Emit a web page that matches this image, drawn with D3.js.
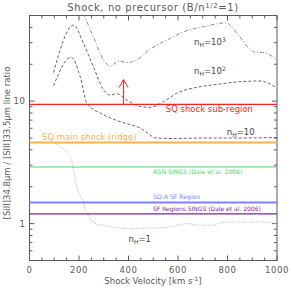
<!DOCTYPE html>
<html>
<head>
<meta charset="utf-8">
<script src="https://cdn.jsdelivr.net/npm/d3@7"></script>
<style>
body { margin: 0; background: #fff; }
svg text { font-family: "DejaVu Sans", sans-serif; }
</style>
</head>
<body>
<div id="chart"></div>
<script>
// model curves, shock velocity (km/s) vs line ratio
var vel1000 = [218, 258, 299, 326, 360, 393, 433, 487, 528, 568, 622, 702, 797, 810, 850, 905, 951, 1000];
var ratio1000 = [52, 33.5, 21.7, 19.4, 21.3, 20.6, 21.7, 26.5, 29.6, 32.5, 36.8, 40.4, 43.6, 41.7, 33.5, 25.3, 24.8, 21.7];

var vel100 = [97, 178, 218, 258, 299, 326, 353, 393, 447, 487, 541, 595, 689, 770, 850, 931, 1000];
var ratio100 = [17.1, 41.7, 29.6, 19.1, 12.4, 11.2, 11.5, 10.2, 9.04, 8.9, 9.9, 11.6, 13.1, 13.8, 14.4, 14.6, 12.8];

var vel10 = [97, 168, 205, 232, 285, 326, 366, 447, 514, 581, 700, 850, 1000];
var ratio10 = [13.3, 22.8, 15.8, 9.6, 8.0, 7.3, 6.8, 6.03, 5.0, 4.95, 5.0, 5.0, 5.05];

var vel1 = [97, 124, 164, 178, 191, 211, 232, 258, 312, 366, 420, 487, 555, 635, 689, 743, 783, 870, 958, 1000];
var ratio1 = [4.56, 4.27, 3.55, 2.76, 2.02, 1.58, 1.23, 1.02, 0.955, 0.92, 0.91, 0.92, 0.93, 1.0, 0.97, 0.97, 1.03, 1.03, 1.03, 0.99];

// observed ratios
var obsNames = ["SQ shock sub-region", "SQ main shock (ridge)", "AGN SINGS (Dale et al. 2006)", "SQ-A SF Region", "SF Regions SINGS (Dale et al. 2006)"];
var obsValues = [9.4, 4.6, 2.9, 1.49, 1.2];
var obsColors = ["#ff2020", "#ffb050", "#40e060", "#8080ff", "#8020a0"];

var xTicks = [0, 200, 400, 600, 800, 1000];
var yTicks = [1, 10];

var width = 293, height = 293;
var pL = 29.5, pR = 277, pT = 15.5, pB = 260.5;

var svg = d3.select("#chart").append("svg")
    .attr("width", width)
    .attr("height", height);

var x = d3.scaleLinear().domain([0, 1000]).range([pL, pR]);
var y = d3.scaleLog().domain([0.5, 50]).range([pB, pT]);

var axisColor = "#5a5a5a";

// frame
svg.append("rect")
    .attr("x", pL).attr("y", pT)
    .attr("width", pR - pL).attr("height", pB - pT)
    .attr("fill", "none").attr("stroke", axisColor).attr("stroke-width", 1);

// x ticks (inward, bottom and top)
var xMinor = d3.range(0, 1001, 50);
xMinor.forEach(function(v) {
    var len = (v % 200 === 0) ? 5 : 3;
    svg.append("line").attr("x1", x(v)).attr("x2", x(v))
        .attr("y1", pB).attr("y2", pB - len).attr("stroke", axisColor);
    svg.append("line").attr("x1", x(v)).attr("x2", x(v))
        .attr("y1", pT).attr("y2", pT + len).attr("stroke", axisColor);
});
xTicks.forEach(function(v) {
    svg.append("text").attr("x", x(v)).attr("y", 273)
        .attr("text-anchor", "middle").attr("font-size", 8.5).attr("fill", axisColor)
        .attr("letter-spacing", 0.6)
        .text(v);
});

// y ticks (inward, left and right)
var yMinor = [0.5, 0.6, 0.7, 0.8, 0.9, 1, 2, 3, 4, 5, 6, 7, 8, 9, 10, 20, 30, 40, 50];
yMinor.forEach(function(v) {
    var len = (v === 1 || v === 10) ? 5 : 3;
    svg.append("line").attr("x1", pL).attr("x2", pL + len)
        .attr("y1", y(v)).attr("y2", y(v)).attr("stroke", axisColor);
    svg.append("line").attr("x1", pR).attr("x2", pR - len)
        .attr("y1", y(v)).attr("y2", y(v)).attr("stroke", axisColor);
});
yTicks.forEach(function(v) {
    svg.append("text").attr("x", pL - 4).attr("y", y(v) + 3)
        .attr("text-anchor", "end").attr("font-size", 8.5).attr("fill", axisColor)
        .attr("letter-spacing", 0.6)
        .text(v);
});

// axis labels and title
var xl = svg.append("text").attr("x", 153).attr("y", 284)
    .attr("text-anchor", "middle").attr("font-size", 8.5).attr("fill", axisColor);
xl.append("tspan").text("Shock Velocity [km s");
xl.append("tspan").attr("dy", -3).attr("font-size", 6).text("-1");
xl.append("tspan").attr("dy", 3).text("]");

svg.append("text")
    .attr("transform", "translate(10," + 143 + ") rotate(-90)")
    .attr("text-anchor", "middle").attr("font-size", 8.5).attr("fill", axisColor)
    .text("[SiII]34.8\u03bcm / [SIII]33.5\u03bcm line ratio");

var tl = svg.append("text").attr("x", 153).attr("y", 11)
    .attr("text-anchor", "middle").attr("font-size", 10).attr("fill", axisColor)
    .attr("letter-spacing", 0.6);
tl.append("tspan").text("Shock, no precursor (B/n");
tl.append("tspan").attr("dy", -3.5).attr("font-size", 7).text("1/2");
tl.append("tspan").attr("dy", 3.5).text("=1)");

// clip for curves
svg.append("clipPath").attr("id", "clip").append("rect")
    .attr("x", pL).attr("y", pT)
    .attr("width", pR - pL).attr("height", pB - pT);

var line = d3.line()
    .x(function(d) { return x(d[0]); })
    .y(function(d) { return y(d[1]); })
    .curve(d3.curveMonotoneX);

function drawCurve(vs, rs, color, dash) {
    svg.append("path")
        .datum(d3.zip(vs, rs))
        .attr("clip-path", "url(#clip)")
        .attr("d", line)
        .attr("fill", "none")
        .attr("stroke", color)
        .attr("stroke-width", 0.9)
        .attr("stroke-dasharray", dash);
}
drawCurve(vel1000, ratio1000, "#808080", "4,2,1,2");
drawCurve(vel100, ratio100, "#555", "3,2");
drawCurve(vel10, ratio10, "#555", "3,2");
drawCurve(vel1, ratio1, "#b0b0b0", "1,1.2");

// observed horizontal lines
obsValues.forEach(function(v, i) {
    svg.append("line")
        .attr("x1", pL).attr("x2", pR)
        .attr("y1", y(v)).attr("y2", y(v))
        .attr("stroke", obsColors[i])
        .attr("stroke-width", (i === 1 || i === 3) ? 2 : 1.2);
});

// labels of observed lines
var obsLabelX = [253, 42, 153, 153, 153];
var obsAnchor = ["end", "start", "start", "start", "start"];
var obsLabelDy = [8, -2, 7, -3, -3];
var obsSize = [8.5, 8.5, 6.1, 6.1, 6.0];
obsNames.forEach(function(n, i) {
    svg.append("text")
        .attr("x", obsLabelX[i]).attr("y", y(obsValues[i]) + obsLabelDy[i])
        .attr("text-anchor", obsAnchor[i])
        .attr("font-size", obsSize[i])
        .attr("fill", obsColors[i])
        .text(n);
});

// arrow marking a lower limit for the sub-region
var arrowV = 380;
svg.append("line")
    .attr("x1", x(arrowV)).attr("x2", x(arrowV))
    .attr("y1", y(obsValues[0])).attr("y2", y(15))
    .attr("stroke", "#ff2020").attr("stroke-width", 1);
svg.append("path")
    .attr("d", "M" + (x(arrowV) - 4.5) + "," + (y(15) + 8) + "L" + x(arrowV) + "," + y(15) + "L" + (x(arrowV) + 4.5) + "," + (y(15) + 8))
    .attr("fill", "none").attr("stroke", "#ff2020").attr("stroke-width", 1);

// density labels
function densityLabel(px, py, exp) {
    var t = svg.append("text").attr("x", px).attr("y", py)
        .attr("font-size", 8.5).attr("fill", "#444");
    t.append("tspan").text("n");
    t.append("tspan").attr("dy", 2).attr("font-size", 6).text("H");
    t.append("tspan").attr("dy", -2).text("=" + (exp === null ? "1" : "10"));
    if (exp !== null && exp !== "") {
        t.append("tspan").attr("dy", -3.5).attr("font-size", 6).text(exp);
    }
}
densityLabel(x(665), y(28.5), "3");
densityLabel(x(665), y(16.6), "2");
densityLabel(x(797), y(5.3), "");
densityLabel(x(400), y(0.71), null);
</script>
</body>
</html>
